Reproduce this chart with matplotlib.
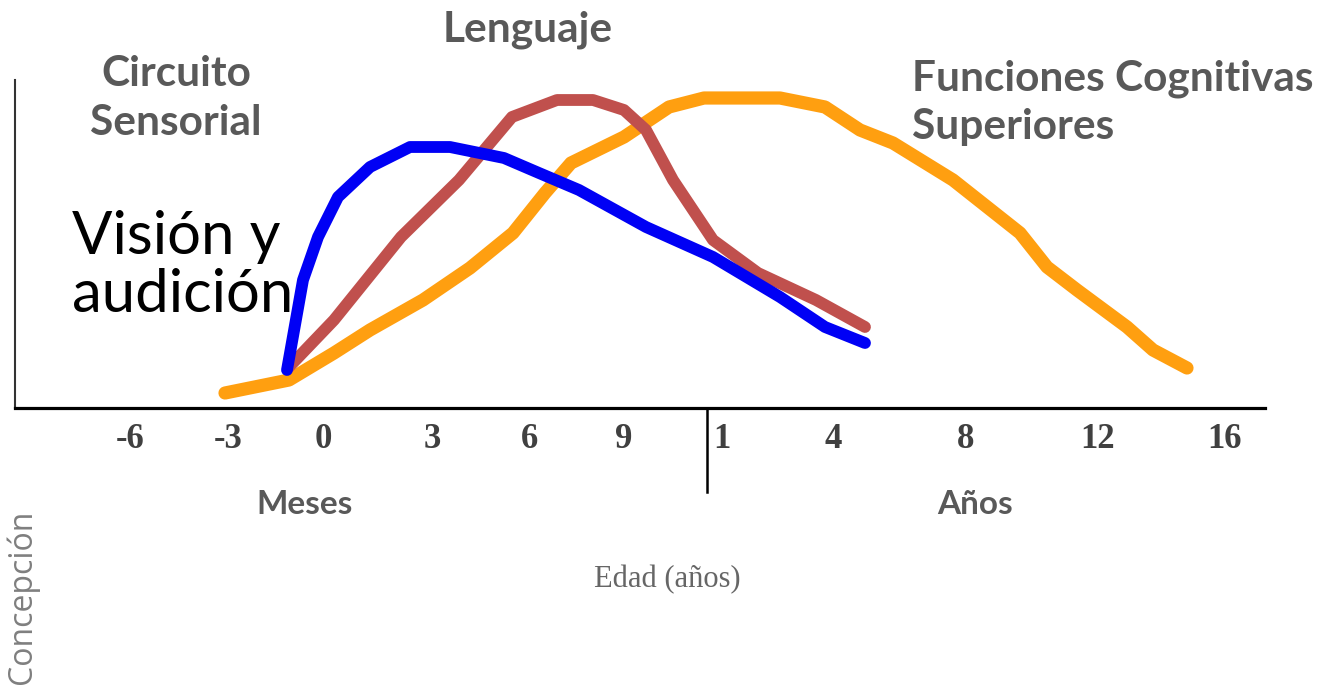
import matplotlib
matplotlib.use("Agg")
import matplotlib.pyplot as plt

# posiciones horizontales de la escala (no lineal) y sus etiquetas
tick_pos = [13.0, 22.8, 32.3, 43.2, 53.0, 62.4, 72.2, 83.3, 96.6, 109.8, 122.5]
tick_labels = ["-6", "-3", "0", "3", "6", "9", "1", "4", "8", "12", "16"]

# curvas (x en unidades de la escala, y = intensidad)
vision_x = [28.7, 30.3, 31.8, 33.8, 37.0, 41.0, 45.0, 50.4, 53.9, 57.9, 64.6, 71.3, 78.0, 82.5, 86.5]
vision_y = [3.8, 12.8, 17.1, 21.1, 24.1, 26.1, 26.1, 25.0, 23.5, 21.8, 18.1, 15.1, 11.1, 8.1, 6.5]

lenguaje_x = [28.9, 33.4, 40.1, 45.9, 51.2, 55.7, 59.3, 62.4, 64.6, 67.3, 71.3, 75.8, 81.6, 86.5]
lenguaje_y = [4.1, 8.8, 17.1, 22.8, 29.1, 30.8, 30.8, 29.8, 27.8, 22.8, 16.8, 13.5, 10.8, 8.1]

funciones_x = [22.5, 28.9, 33.4, 37.0, 42.3, 47.0, 51.3, 54.5, 57.1, 62.4, 66.9, 70.4, 78.0, 82.5,
               86.0, 89.3, 95.3, 102.0, 104.7, 107.7, 112.7, 115.3, 118.7]
funciones_y = [1.5, 2.8, 5.5, 7.8, 10.8, 14.0, 17.5, 21.5, 24.5, 27.1, 30.1, 31.0, 31.0, 30.1,
               27.8, 26.5, 22.8, 17.5, 14.1, 11.8, 8.1, 5.8, 4.0]

gris = "#595959"
fig = plt.figure(figsize=(13.18, 6.95), dpi=100)
ax = fig.add_axes([15 / 1318, (695 - 408) / 695, 1250 / 1318, 328 / 695])
ax.set_xlim(1.5, 126.5)
ax.set_ylim(0, 32.8)

for s in ["top", "right"]:
    ax.spines[s].set_visible(False)
ax.spines["bottom"].set_linewidth(2.3)
ax.spines["left"].set_linewidth(1.5)
ax.spines["left"].set_color("#333333")
ax.set_yticks([])

ax.set_xticks(tick_pos)
ax.set_xticklabels(tick_labels, fontfamily="Liberation Serif", fontweight="bold",
                   fontsize=25, color="#404040")
ax.tick_params(axis="x", length=0, pad=11)

# curvas
kw = dict(solid_capstyle="round", solid_joinstyle="round", clip_on=False)
ax.plot(funciones_x, funciones_y, color="#FF9F10", lw=9.5, **kw)
ax.plot(lenguaje_x, lenguaje_y, color="#C0504D", lw=8.5, **kw)
ax.plot(vision_x, vision_y, color="#0000F5", lw=8.5, **kw)

# separador meses / años
ax.plot([70.7, 70.7], [0, -8.4], color="black", lw=1.8, clip_on=False)

# textos
bold = dict(fontfamily="Lato", fontweight="bold", color=gris, fontsize=30.5)
ax.text(17.6, 30.95, "Circuito\nSensorial", ha="center", va="center",
        linespacing=1.36, **bold)
ax.text(52.8, 37.8, "Lenguaje", ha="center", va="center", **bold)
ax.text(91.2, 30.55, "Funciones Cognitivas\nSuperiores", ha="left", va="center",
        multialignment="left", linespacing=1.32, **bold)
ax.text(7.2, 14.2, "Visión y\naudición", ha="left", va="center", fontfamily="Lato",
        fontsize=43, color="black", linespacing=1.07)

ax.text(30.5, -9.7, "Meses", ha="center", va="center", fontfamily="Lato",
        fontweight="bold", fontsize=24, color=gris)
ax.text(97.5, -9.7, "Años", ha="center", va="center", fontfamily="Lato",
        fontweight="bold", fontsize=24, color=gris)
ax.text(66.7, -17.2, "Edad (años)", ha="center", va="center",
        fontfamily="Liberation Serif", fontsize=22, color="#666666")
ax.text(2.2, -18.9, "Concepción", ha="center", va="center", rotation=90,
        fontfamily="Open Sans", fontsize=23, color="#7f7f7f")

fig.savefig("out.png", dpi=100)
